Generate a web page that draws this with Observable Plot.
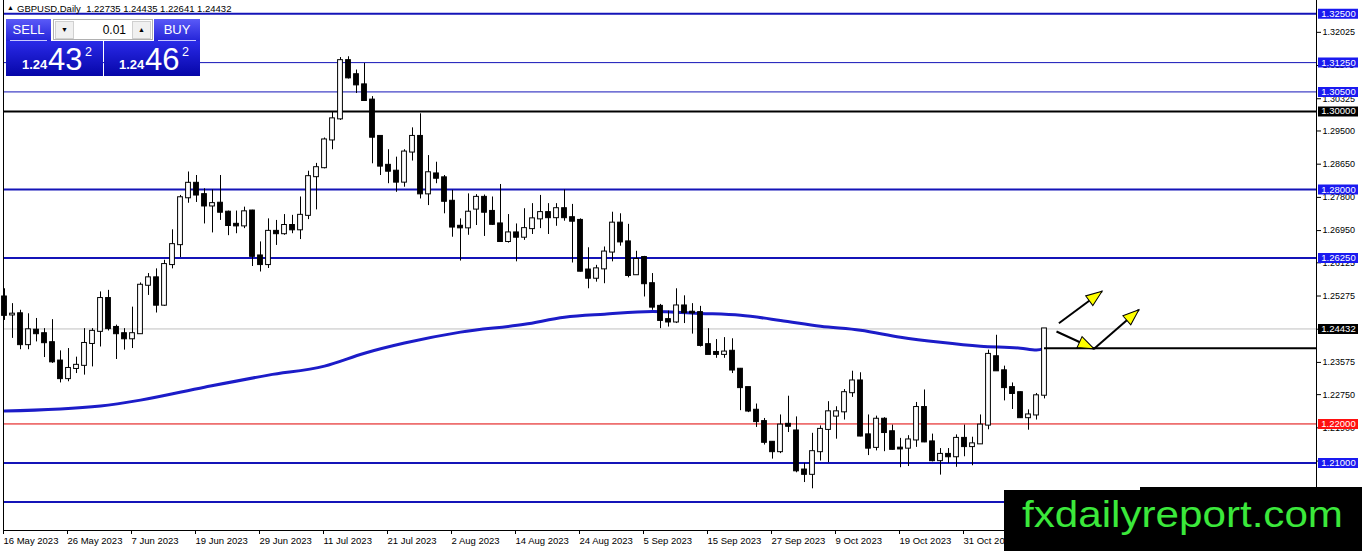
<!DOCTYPE html>
<html>
<head>
<meta charset="utf-8">
<script src="https://cdn.jsdelivr.net/npm/d3@7"></script>
<script src="https://cdn.jsdelivr.net/npm/@observablehq/plot@0.6"></script>
<style>
  body { margin: 0; background: #fff; }
  #wrap { position: relative; width: 1362px; height: 551px; overflow: hidden; font-family: "Liberation Sans", Arial, sans-serif; }
  #chart svg { display: block; }
  #hdr { position: absolute; left: 17px; top: 3px; font-size: 9.5px; color: #000; white-space: pre; }
  #tri { position: absolute; left: 7px; top: 4px; font-size: 7px; color: #000; }
  #panel { position: absolute; left: 6px; top: 19px; width: 194px; height: 57px; }
  .btn { position: absolute; top: 0; height: 22px; background: linear-gradient(#5a5af8, #2424d8); color: #fff; font-size: 13px; text-align: center; line-height: 21px; }
  .btn::after { content: ""; position: absolute; left: 4px; right: 4px; bottom: 0; height: 1px; background: #c8c8ff; }
  #lot { position: absolute; left: 47px; top: 0; width: 100px; height: 21px; background: #fff; border: 1px solid #b0b0b0; box-sizing: border-box; }
  #lot .arr { position: absolute; top: 1px; width: 19px; height: 18px; background: #f0f0f0; border: 1px solid #d0d0d0; box-sizing: border-box; font-size: 7px; text-align: center; line-height: 16px; color: #000; }
  #lot .val { position: absolute; right: 26px; top: 3px; font-size: 12px; color: #000; }
  .big { position: absolute; top: 22px; height: 35px; background: linear-gradient(#2a2ae8, #0606a8); color: #fff; }
  .big span { position: absolute; line-height: 1; white-space: nowrap; }
</style>
</head>
<body>
<div id="wrap">
  <div id="chart"></div>
  <div id="tri">▲</div>
  <div id="hdr">GBPUSD,Daily  1.22735 1.24435 1.22641 1.24432</div>
  <div id="panel">
    <div class="btn" style="left:0;width:45px;">SELL</div>
    <div id="lot">
      <div class="arr" style="left:1px;">▼</div>
      <div class="val">0.01</div>
      <div class="arr" style="right:1px;">▲</div>
    </div>
    <div class="btn" style="left:148px;width:46px;">BUY</div>
    <div class="big" style="left:0;width:97px;">
      <span style="left:16px;top:17px;font-size:13px;font-weight:bold;">1.24</span>
      <span style="left:42px;top:3px;font-size:31px;">43</span>
      <span style="left:79px;top:5px;font-size:12.5px;">2</span>
    </div>
    <div class="big" style="left:98px;width:96px;">
      <span style="left:15px;top:17px;font-size:13px;font-weight:bold;">1.24</span>
      <span style="left:41px;top:3px;font-size:31px;">46</span>
      <span style="left:78px;top:5px;font-size:12.5px;">2</span>
    </div>
  </div>
</div>
<script>
// ---------------- DATA (GBPUSD Daily, 16 May 2023 - 14 Nov 2023) ----------------
const open = [
  1.2525,1.2479,1.2482,1.2403,1.2440,1.2431,1.2408,1.2361,1.2316,1.2342,
  1.2350,1.2406,1.2437,1.2521,1.2447,1.2431,1.2418,1.2431,1.2555,1.2574,
  1.2504,1.2608,1.2659,1.2779,1.2816,1.2787,1.2758,1.2765,1.2742,1.2711,
  1.2707,1.2745,1.2630,1.2608,1.2693,1.2687,1.2708,1.2697,1.2734,1.2833,
  1.2856,1.2927,1.2981,1.3130,1.3094,1.3068,1.3029,1.2936,1.2862,1.2847,
  1.2819,1.2896,1.2936,1.2789,1.2840,1.2830,1.2770,1.2706,1.2702,1.2750,
  1.2780,1.2744,1.2712,1.2667,1.2689,1.2678,1.2700,1.2725,1.2741,1.2728,
  1.2751,1.2728,1.2721,1.2594,1.2573,1.2597,1.2640,1.2714,1.2666,1.2582,
  1.2626,1.2559,1.2501,1.2467,1.2461,1.2502,1.2486,1.2485,1.2403,1.2383,
  1.2378,1.2386,1.2340,1.2293,1.2235,1.2206,1.2153,1.2129,1.2199,1.2182,
  1.2082,1.2071,1.2129,1.2186,1.2220,1.2231,1.2280,1.2310,1.2172,1.2140,
  1.2212,1.2180,1.2138,1.2138,1.2159,1.2242,1.2154,1.2106,1.2122,1.2116,
  1.2163,1.2142,1.2149,1.2197,1.2372,1.2336,1.2293,1.2280,1.2216,1.2223,
  1.22735
];
const high = [
  1.2546,1.2508,1.2491,1.2482,1.2470,1.2444,1.2467,1.2387,1.2393,1.2371,
  1.2444,1.2444,1.2538,1.2542,1.2453,1.2444,1.2499,1.2561,1.2585,1.2597,
  1.2619,1.2697,1.2785,1.2845,1.2836,1.2802,1.2799,1.2836,1.2745,1.2745,
  1.2755,1.2747,1.2666,1.2725,1.2721,1.2736,1.2734,1.2781,1.2847,1.2867,
  1.2932,1.2998,1.3138,1.3140,1.3106,1.3123,1.3038,1.2936,1.2902,1.2883,
  1.2902,1.2958,1.2994,1.2887,1.2870,1.2836,1.2798,1.2725,1.2789,1.2787,
  1.2786,1.2781,1.2813,1.2736,1.2712,1.2751,1.2764,1.2785,1.2764,1.2764,
  1.2799,1.2762,1.2725,1.2651,1.2606,1.2653,1.2742,1.2738,1.2711,1.2642,
  1.2629,1.2585,1.2506,1.2489,1.2546,1.2528,1.2508,1.2501,1.2444,1.2416,
  1.2421,1.2418,1.2342,1.2293,1.2251,1.2214,1.2155,1.2223,1.2271,1.2218,
  1.2099,1.2176,1.2195,1.2257,1.2244,1.2288,1.2335,1.2331,1.2223,1.2220,
  1.2216,1.2197,1.2163,1.2170,1.2255,1.2287,1.2174,1.2137,1.2137,1.2172,
  1.2197,1.2166,1.2223,1.2389,1.2427,1.2348,1.2305,1.2282,1.2236,1.2278,
  1.24435
];
const low = [
  1.2465,1.2419,1.2390,1.2390,1.2410,1.2370,1.2355,1.2305,1.2308,1.2329,
  1.2325,1.2346,1.2397,1.2438,1.2365,1.2389,1.2393,1.2431,1.2529,1.2484,
  1.2501,1.2597,1.2626,1.2765,1.2767,1.2712,1.2689,1.2721,1.2682,1.2687,
  1.2700,1.2603,1.2589,1.2598,1.2657,1.2683,1.2687,1.2672,1.2723,1.2748,
  1.2853,1.2902,1.2977,1.3083,1.3046,1.3026,1.2866,1.2836,1.2815,1.2793,
  1.2806,1.2873,1.2776,1.2759,1.2815,1.2738,1.2678,1.2617,1.2683,1.2708,
  1.2680,1.2708,1.2666,1.2663,1.2615,1.2670,1.2685,1.2700,1.2685,1.2706,
  1.2719,1.2612,1.2589,1.2546,1.2563,1.2559,1.2615,1.2655,1.2574,1.2582,
  1.2525,1.2491,1.2444,1.2448,1.2457,1.2457,1.2430,1.2397,1.2378,1.2368,
  1.2368,1.2329,1.2234,1.2229,1.2191,1.2146,1.2110,1.2124,1.2178,1.2075,
  1.2050,1.2034,1.2105,1.2101,1.2161,1.2210,1.2268,1.2167,1.2119,1.2131,
  1.2129,1.2133,1.2088,1.2091,1.2140,1.2152,1.2103,1.2069,1.2099,1.2089,
  1.2116,1.2093,1.2148,1.2185,1.2336,1.2259,1.2237,1.2214,1.2184,1.2210,
  1.22641
];
const close = [
  1.2478,1.2481,1.2403,1.2441,1.2431,1.2408,1.2359,1.2316,1.2342,1.2350,
  1.2406,1.2437,1.2521,1.2444,1.2431,1.2418,1.2431,1.2555,1.2574,1.2504,
  1.2608,1.2659,1.2779,1.2816,1.2786,1.2758,1.2764,1.2742,1.2708,1.2707,
  1.2743,1.2629,1.2608,1.2693,1.2687,1.2708,1.2697,1.2734,1.2833,1.2856,
  1.2927,1.2981,1.3130,1.3086,1.3068,1.3028,1.2934,1.2860,1.2847,1.2819,
  1.2896,1.2936,1.2789,1.2843,1.2829,1.2770,1.2704,1.2702,1.2742,1.2780,
  1.2742,1.2711,1.2667,1.2689,1.2678,1.2700,1.2725,1.2741,1.2728,1.2751,
  1.2728,1.2719,1.2591,1.2573,1.2597,1.2640,1.2714,1.2666,1.2580,1.2621,
  1.2559,1.2499,1.2465,1.2461,1.2502,1.2485,1.2484,1.2401,1.2378,1.2378,
  1.2384,1.2338,1.2293,1.2233,1.2206,1.2153,1.2129,1.2197,1.2194,1.2080,
  1.2071,1.2129,1.2186,1.2231,1.2231,1.2280,1.2310,1.2169,1.2138,1.2212,
  1.2178,1.2135,1.2136,1.2159,1.2242,1.2154,1.2106,1.2122,1.2116,1.2163,
  1.2142,1.2149,1.2197,1.2378,1.2336,1.2293,1.2278,1.2216,1.2223,1.2272,
  1.24432
];

// moving average (read at selected bars)
const maBars   = [0, 12, 17, 25, 33, 40, 45, 50, 57, 65, 70, 75, 81, 87, 92, 97, 102, 107, 112, 117, 122, 127, 129, 130];
const maValues = [1.2233,1.2246,1.2261,1.2294,1.2325,1.2348,1.2381,1.2407,1.2435,1.2455,1.2473,1.2481,1.2488,1.2483,1.2478,1.2465,1.2450,1.2440,1.2422,1.2409,1.2399,1.2394,1.2389,1.2394];

// x-axis ticks (bar index) and their labels
const tickBars   = [0, 8, 16, 24, 32, 40, 48, 56, 64, 72, 80, 88, 96, 104, 112, 120, 128];
const tickLabels = ["16 May 2023","26 May 2023","7 Jun 2023","19 Jun 2023","29 Jun 2023","11 Jul 2023","21 Jul 2023","2 Aug 2023","14 Aug 2023","24 Aug 2023","5 Sep 2023","15 Sep 2023","27 Sep 2023","9 Oct 2023","19 Oct 2023","31 Oct 2023","10 Nov 2023"];

// price-axis ticks
const priceTicks = [1.32025,1.31175,1.30325,1.29500,1.28650,1.27800,1.26950,1.26125,1.25275,1.24425,1.23575,1.22750,1.21900,1.21050,1.20200];

// horizontal levels
const blueThickLevels = [1.32500, 1.28000, 1.26250, 1.21000, 1.20000];
const blueThinLevels  = [1.31250, 1.30500];
const blackLevels     = [1.30000];
const redLevels       = [1.22000];
const currentPrice    = 1.24432;
const breakoutLevel   = 1.2394;
const breakoutFromBar = 130;

// annotation arrows (bar index / price)
const arrowStartBar   = [131.8, 131.5, 136.2];
const arrowStartPrice = [1.24579, 1.24366, 1.23924];
const arrowEndBar     = [137.2, 136.2, 141.8];
const arrowEndPrice   = [1.25398, 1.23924, 1.24922];

// ---------------- CHART ----------------
const W = 1362, H = 551, ML = 3, MR = 46, MT = 0, MB = 21;
const xDomain = [-0.125, 164];
const yDomain = [1.19272, 1.32840];
const pxBar = (W - ML - MR) / (xDomain[1] - xDomain[0]);
const pxPrice = (H - MT - MB) / (yDomain[1] - yDomain[0]);
const fmt = d3.format(".5f");

const BLUE_LINE = "#1414b8", BLUE_BOX = "#1a1af0", MA_COL = "#1c1cc8";

const bars = open.map((o, i) => ({i, o, h: high[i], l: low[i], c: close[i]}));
const ma = maBars.map((b, k) => ({b, v: maValues[k]}));
const arrows = arrowStartBar.map((b, k) => ({
  x1: b, y1: arrowStartPrice[k], x2: arrowEndBar[k], y2: arrowEndPrice[k],
  rot: Math.atan2((arrowEndBar[k] - b) * pxBar, (arrowEndPrice[k] - arrowStartPrice[k]) * pxPrice) * 180 / Math.PI
}));
const labelRows = [
  ...blueThickLevels.map(v => ({v, col: BLUE_BOX})),
  ...blueThinLevels.map(v => ({v, col: BLUE_BOX})),
  ...blackLevels.map(v => ({v, col: "#000000"})),
  ...redLevels.map(v => ({v, col: "#ff1010"})),
  {v: currentPrice, col: "#000000"}
];
const tickLabelMap = new Map(tickBars.map((b, k) => [b, tickLabels[k]]));
const boxX1 = xDomain[1] + 2 / pxBar, boxX2 = xDomain[1] + 42 / pxBar, boxXm = xDomain[1] + 22 / pxBar;

const headSymbol = {
  draw(ctx) { ctx.moveTo(0, 0); ctx.lineTo(-6, 16); ctx.lineTo(6, 16); ctx.closePath(); }
};

const chart = Plot.plot({
  width: W, height: H,
  marginLeft: ML, marginRight: MR, marginTop: MT, marginBottom: MB,
  style: {fontFamily: "'Liberation Sans', Arial, sans-serif", fontSize: "9.5px", color: "#000", background: "transparent", overflow: "visible"},
  x: {type: "linear", domain: xDomain, label: null},
  y: {type: "linear", domain: yDomain, label: null},
  color: {type: "identity"},
  marks: [
    Plot.axisY(priceTicks, {anchor: "right", tickFormat: fmt, tickSize: 4, tickPadding: 2, fontSize: 9, label: null}),
    Plot.axisX(tickBars, {anchor: "bottom", tickFormat: d => tickLabelMap.get(d), tickSize: 4, tickPadding: 3, textAnchor: "start", dx: -1, label: null}),
    // horizontal levels
    Plot.ruleY([currentPrice], {stroke: "#c0c0c0", strokeWidth: 1}),
    Plot.ruleY(blueThickLevels, {stroke: BLUE_LINE, strokeWidth: 2}),
    Plot.ruleY(blueThinLevels, {stroke: BLUE_LINE, strokeWidth: 1}),
    Plot.ruleY(blackLevels, {stroke: "#000", strokeWidth: 2}),
    Plot.ruleY(redLevels, {stroke: "#e00000", strokeWidth: 1}),
    // moving average
    Plot.line(ma, {x: "b", y: "v", stroke: MA_COL, strokeWidth: 3, curve: "monotone-x"}),
    // candles
    Plot.ruleX(bars, {x: "i", y1: "l", y2: "h", stroke: "#000", strokeWidth: 1}),
    Plot.rect(bars, {
      x1: d => d.i - 0.3, x2: d => d.i + 0.3,
      y1: d => Math.min(d.o, d.c), y2: d => Math.max(d.o, d.c),
      fill: d => d.c >= d.o ? "#ffffff" : "#000000",
      stroke: "#000", strokeWidth: 1, insetTop: -0.5, insetBottom: -0.5
    }),
    // breakout level segment
    Plot.ruleY([breakoutLevel], {x1: () => breakoutFromBar, x2: () => xDomain[1], stroke: "#000", strokeWidth: 2}),
    // arrows
    Plot.link(arrows, {x1: "x1", y1: "y1", x2: "x2", y2: "y2", stroke: "#000", strokeWidth: 2}),
    Plot.dot(arrows, {x: "x2", y: "y2", symbol: headSymbol, rotate: "rot", fill: "#ffff00", stroke: "#000", strokeWidth: 1, r: 5}),
    // frame lines
    Plot.ruleX([xDomain[0]], {stroke: "#000"}),
    Plot.ruleX([xDomain[1]], {stroke: "#000"}),
    Plot.ruleY([yDomain[0]], {stroke: "#000"}),
    // price boxes on the axis
    Plot.ruleY(labelRows, {y: "v", x1: () => boxX1, x2: () => boxX2, stroke: "col", strokeWidth: 10}),
    Plot.text(labelRows, {y: "v", x: () => boxXm, text: d => fmt(d.v), fill: "#ffffff", fontSize: 9.5, textAnchor: "middle"})
  ]
});
document.getElementById("chart").appendChild(chart);

// watermark
const svg = d3.select(chart);
svg.append("rect").attr("x", 1004).attr("y", 490).attr("width", 358).attr("height", 61).attr("fill", "#000");
svg.append("rect").attr("x", 1140).attr("y", 487).attr("width", 222).attr("height", 10).attr("fill", "#000");
svg.append("text").attr("x", 1022).attr("y", 527).attr("text-anchor", "start")
  .attr("font-family", "'Liberation Sans', Arial, sans-serif").attr("font-size", 37)
  .attr("textLength", 321).attr("lengthAdjust", "spacingAndGlyphs")
  .attr("fill", "#3be83b").text("fxdailyreport.com");
</script>
</body>
</html>
